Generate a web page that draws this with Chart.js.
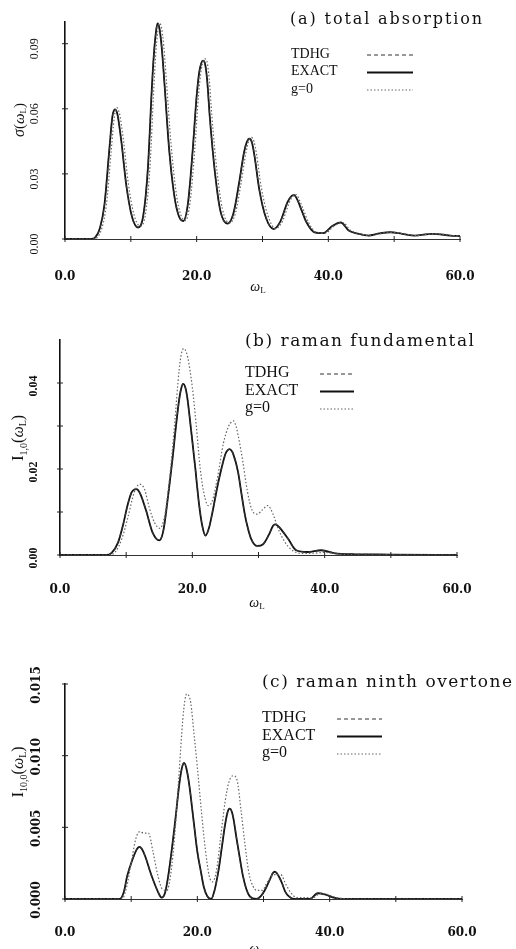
<!DOCTYPE html>
<html>
<head>
<meta charset="utf-8">
<script src="https://cdn.jsdelivr.net/npm/chart.js@4.4.0/dist/chart.umd.min.js"></script>
<style>
  body { margin: 0; background: #fff; width: 516px; height: 949px; overflow: hidden; position: relative; }
  canvas { position: absolute; left: 0; }
</style>
</head>
<body>
<canvas id="chartA" width="516" height="300" style="top:0px"></canvas>
<canvas id="chartB" width="516" height="320" style="top:300px"></canvas>
<canvas id="chartC" width="516" height="329" style="top:620px"></canvas>
<script>
// x axis (omega_L), shared by the three panels
const xTicks = [0, 20, 40, 60];
const xTickLabels = ['0.0', '20.0', '40.0', '60.0'];
const xMinorTicks = [0, 10, 20, 30, 40, 50, 60];
const legendNames = ['TDHG', 'EXACT', 'g=0'];

// (a) total absorption  [omega_L, sigma]
const exactA = [[0,0],[4.0,0],[4.6,0.0008],[5.3,0.005],[6.0,0.016],[6.7,0.040],[7.2,0.0565],[7.4,0.059],[7.6,0.0597],[7.8,0.059],[8.0,0.057],[8.6,0.044],[9.3,0.025],[10.2,0.010],[11.1,0.0053],[11.9,0.011],[12.6,0.033],[13.2,0.070],[13.5,0.085],[13.8,0.095],[14.05,0.0993],[14.35,0.097],[14.7,0.088],[15.1,0.072],[15.8,0.042],[16.6,0.020],[17.3,0.0105],[17.97,0.0083],[18.7,0.017],[19.4,0.041],[20.0,0.066],[20.4,0.077],[20.7,0.081],[20.95,0.0822],[21.25,0.081],[21.6,0.073],[22.0,0.056],[22.8,0.030],[23.6,0.013],[24.7,0.0071],[25.6,0.012],[26.4,0.025],[27.2,0.040],[27.6,0.0445],[28.0,0.0462],[28.4,0.0445],[28.8,0.038],[29.5,0.023],[30.5,0.010],[31.7,0.0046],[32.7,0.008],[33.8,0.017],[34.4,0.0198],[34.8,0.0202],[35.3,0.018],[35.9,0.0135],[36.7,0.0076],[37.9,0.0031],[39.2,0.0027],[40.6,0.006],[41.9,0.0076],[43.1,0.0039],[44.6,0.0024],[46.1,0.0016],[47.8,0.0026],[49.4,0.0031],[51.2,0.0024],[53.1,0.0016],[55.8,0.0024],[58.5,0.0016],[60,0.0013]];
const tdhgA = exactA;
const g0A = [[0,0],[4.2,0],[4.9,0.0008],[5.6,0.005],[6.3,0.016],[7.0,0.040],[7.5,0.0565],[7.7,0.0595],[7.9,0.0605],[8.1,0.0595],[8.3,0.0575],[8.9,0.045],[9.6,0.026],[10.5,0.011],[11.4,0.006],[12.2,0.011],[12.9,0.033],[13.5,0.070],[13.8,0.086],[14.1,0.0955],[14.35,0.0995],[14.65,0.0975],[15.0,0.089],[15.4,0.073],[16.1,0.044],[16.9,0.021],[17.6,0.011],[18.3,0.0085],[19.0,0.017],[19.7,0.041],[20.3,0.067],[20.7,0.078],[21.0,0.082],[21.25,0.083],[21.55,0.082],[21.9,0.074],[22.3,0.057],[23.1,0.031],[23.9,0.014],[25.0,0.0073],[25.9,0.012],[26.7,0.025],[27.5,0.040],[27.9,0.045],[28.3,0.0468],[28.7,0.045],[29.1,0.039],[29.8,0.024],[30.8,0.011],[32.0,0.0048],[33.0,0.008],[34.1,0.017],[34.7,0.020],[35.1,0.0205],[35.6,0.018],[36.2,0.0135],[37.0,0.0076],[38.2,0.0031],[39.5,0.0027],[40.9,0.006],[42.2,0.0076],[43.4,0.0039],[44.9,0.0024],[46.4,0.0016],[48.1,0.0026],[49.7,0.0031],[51.5,0.0024],[53.4,0.0016],[56.1,0.0024],[58.8,0.0016],[60,0.0013]];
const yTicksA = [0, 0.03, 0.06, 0.09];
const yTickLabelsA = ['0.00', '0.03', '0.06', '0.09'];

// (b) raman fundamental  [omega_L, I_1,0]
const exactB = [[0,0],[7.0,0],[7.8,0.0005],[8.8,0.003],[9.5,0.0068],[10.2,0.0115],[10.8,0.0145],[11.2,0.0152],[11.5,0.0153],[11.8,0.0151],[12.2,0.014],[13.0,0.0104],[14.0,0.0052],[15.0,0.0034],[15.6,0.0055],[16.2,0.012],[17.0,0.0223],[17.6,0.031],[18.0,0.036],[18.3,0.0386],[18.6,0.0398],[18.9,0.0392],[19.2,0.037],[19.6,0.032],[20.4,0.0209],[21.0,0.012],[21.5,0.0068],[22.0,0.0045],[22.5,0.0062],[23.1,0.0104],[23.8,0.016],[24.4,0.0201],[25.0,0.0235],[25.3,0.0243],[25.6,0.0246],[25.9,0.0243],[26.2,0.0234],[26.9,0.0194],[27.4,0.0145],[27.9,0.0097],[28.4,0.0062],[28.9,0.0037],[29.8,0.0021],[30.7,0.0025],[31.6,0.0048],[32.2,0.0068],[32.5,0.0071],[32.9,0.0068],[33.5,0.0058],[34.5,0.0037],[35.7,0.0011],[37.4,0.0007],[39.5,0.0011],[41.6,0.0004],[44,0.0002],[50,0.0001],[60,0]];
const tdhgB = exactB;
const g0B = [[0,0],[7.4,0],[8.4,0.0008],[9.4,0.004],[10.3,0.009],[11.2,0.0145],[11.7,0.0161],[12.0,0.0165],[12.4,0.0162],[12.8,0.0152],[13.5,0.011],[14.3,0.0075],[15.1,0.0062],[15.8,0.009],[16.5,0.017],[17.3,0.030],[18.0,0.043],[18.4,0.0472],[18.7,0.048],[19.0,0.0475],[19.3,0.046],[20.0,0.039],[20.6,0.030],[21.2,0.020],[21.8,0.014],[22.4,0.0115],[23.0,0.0125],[23.8,0.018],[24.7,0.026],[25.5,0.030],[25.9,0.0309],[26.2,0.0312],[26.6,0.030],[26.9,0.028],[27.6,0.022],[28.3,0.015],[29.0,0.0105],[29.8,0.0095],[30.6,0.0105],[31.4,0.0115],[32.2,0.0095],[33.0,0.006],[34.0,0.003],[35.0,0.0012],[36.5,0.0004],[38,0.0004],[40,0.0006],[42,0.0002],[45,0],[60,0]];
const yTicksB = [0, 0.02, 0.04];
const yTickLabelsB = ['0.00', '0.02', '0.04'];

// (c) raman ninth overtone  [omega_L, I_10,0]
const exactC = [[0,0],[8.3,0],[8.9,0.0005],[9.4,0.0016],[10.4,0.003],[10.9,0.0035],[11.25,0.00364],[11.6,0.0035],[12.1,0.003],[13.1,0.0016],[14.1,0.00045],[14.6,0.0001],[15.1,0.0004],[15.6,0.0016],[16.1,0.0033],[16.6,0.0052],[17.3,0.0081],[17.7,0.0092],[18.0,0.0095],[18.35,0.0091],[18.8,0.0079],[19.5,0.0052],[20.0,0.0033],[20.5,0.002],[21.0,0.0008],[21.5,0.0002],[22.1,0],[22.6,0.0006],[23.2,0.002],[23.7,0.0036],[24.2,0.0052],[24.6,0.0061],[24.9,0.0063],[25.2,0.0061],[25.5,0.0055],[25.9,0.0043],[26.4,0.0029],[26.9,0.0016],[27.4,0.0007],[27.9,0.0002],[28.9,0],[29.6,0.0002],[30.3,0.0007],[31.0,0.0014],[31.4,0.0018],[31.7,0.0019],[32.0,0.0018],[32.4,0.0015],[32.8,0.0011],[33.3,0.0005],[33.8,0.0002],[34.6,0],[37,0],[38.2,0.0004],[39.4,0.0003],[40.6,0.0001],[42,0],[60,0]];
const tdhgC = exactC;
const g0C = [[0,0],[8.6,0],[9.3,0.0008],[10.0,0.0025],[10.7,0.0042],[11.3,0.0047],[11.9,0.0046],[12.6,0.0046],[13.3,0.0033],[14.0,0.0017],[14.7,0.0007],[15.4,0.0006],[16.0,0.0018],[16.6,0.0045],[17.2,0.0085],[17.8,0.0125],[18.1,0.0138],[18.4,0.0143],[18.7,0.0142],[19.0,0.0137],[19.5,0.0115],[20.0,0.0092],[20.6,0.0062],[21.2,0.0035],[21.8,0.0016],[22.3,0.0012],[22.9,0.002],[23.5,0.0042],[24.2,0.0068],[24.8,0.0082],[25.4,0.0086],[26.0,0.0083],[26.6,0.0062],[27.2,0.0038],[27.8,0.0018],[28.4,0.0009],[29.0,0.0006],[29.8,0.0006],[30.6,0.0012],[31.6,0.0017],[32.6,0.0017],[33.4,0.001],[34.2,0.0004],[35,0.0001],[37.5,0.0001],[38.6,0.0004],[39.8,0.0003],[41,0.0001],[43,0],[60,0]];
const yTicksC = [0, 0.005, 0.010, 0.015];
const yTickLabelsC = ['0.000', '0.005', '0.010', '0.015'];

const SERIF = '"DejaVu Serif", serif';
const TIMES = '"Liberation Serif", serif';

function pts(arr) { return arr.map(([x, y]) => ({ x: x, y: y })); }

function drawRich(ctx, parts, cx, cy, rotate) {
  ctx.save();
  ctx.translate(cx, cy);
  if (rotate) ctx.rotate(-Math.PI / 2);
  ctx.textBaseline = 'middle';
  ctx.textAlign = 'left';
  let total = 0;
  parts.forEach(p => { ctx.font = p.f; total += ctx.measureText(p.t).width; });
  let x = -total / 2;
  parts.forEach(p => {
    ctx.font = p.f;
    ctx.fillText(p.t, x, p.dy || 0);
    x += ctx.measureText(p.t).width;
  });
  ctx.restore();
}

function fitText(ctx, text, x, y, w, font) {
  ctx.font = font;
  ctx.letterSpacing = '0px';
  const w0 = ctx.measureText(text).width;
  const ls = Math.max(0, (w - w0) / (text.length - 1));
  ctx.letterSpacing = ls + 'px';
  ctx.textAlign = 'left';
  ctx.textBaseline = 'middle';
  ctx.fillText(text, x, y);
  ctx.letterSpacing = '0px';
}

const lineStyles = [
  { color: '#333', width: 1.2, dash: [4, 3] },   // TDHG
  { color: '#111', width: 1.8, dash: [] },       // EXACT
  { color: '#666', width: 1.2, dash: [1.5, 2] }  // g=0
];

function makePanel(id, p) {
  const textPlugin = {
    id: 'panelText',
    afterDraw(chart) {
      const { ctx } = chart;
      const xs = chart.scales.x, ys = chart.scales.y;
      ctx.save();
      ctx.fillStyle = '#111';
      ctx.strokeStyle = '#222';
      ctx.lineWidth = 1;
      ctx.setLineDash([]);
      // tick marks
      ctx.beginPath();
      xMinorTicks.forEach(v => {
        const px = xs.getPixelForValue(v);
        ctx.moveTo(px, ys.bottom - 3); ctx.lineTo(px, ys.bottom + 3);
      });
      p.yMinor.forEach(v => {
        const py = ys.getPixelForValue(v);
        ctx.moveTo(xs.left - 3, py); ctx.lineTo(xs.left + 3, py);
      });
      ctx.stroke();
      // x tick labels
      ctx.font = 'bold 12px ' + SERIF;
      ctx.textAlign = 'center';
      ctx.textBaseline = 'middle';
      xTicks.forEach((v, i) => ctx.fillText(xTickLabels[i], xs.getPixelForValue(v), p.xLabelY));
      // y tick labels, rotated
      ctx.font = p.yFont;
      p.yTicks.forEach((v, i) => {
        const py = ys.getPixelForValue(v) + p.yShift;
        ctx.save();
        ctx.translate(p.yLabelX, py);
        ctx.rotate(-Math.PI / 2);
        ctx.fillText(p.yLabels[i], 0, 0);
        ctx.restore();
      });
      // axis titles
      drawRich(ctx, p.yTitle, p.yTitlePos[0], p.yTitlePos[1], true);
      drawRich(ctx, [
        { t: 'ω', f: 'italic 14px ' + TIMES },
        { t: 'L', f: '9px ' + TIMES, dy: 4 }
      ], p.xTitlePos[0], p.xTitlePos[1], false);
      // panel title
      fitText(ctx, p.title, p.titleX, p.titleY, p.titleW, p.titleFont);
      // legend
      legendNames.forEach((name, i) => {
        const y = p.legY + i * p.legDy;
        ctx.font = p.legFont;
        ctx.textAlign = 'left';
        ctx.textBaseline = 'middle';
        ctx.fillText(name, p.legX, y);
        const s = lineStyles[i];
        ctx.strokeStyle = s.color;
        ctx.lineWidth = s.width;
        ctx.setLineDash(s.dash);
        ctx.beginPath();
        ctx.moveTo(p.legX0, y + 1); ctx.lineTo(p.legX1, y + 1);
        ctx.stroke();
      });
      ctx.restore();
    }
  };

  return new Chart(document.getElementById(id), {
    type: 'scatter',
    data: {
      datasets: [
        { label: 'g=0', data: pts(p.g0), showLine: true, pointRadius: 0, borderColor: lineStyles[2].color, borderWidth: lineStyles[2].width, borderDash: lineStyles[2].dash, cubicInterpolationMode: 'monotone' },
        { label: 'TDHG', data: pts(p.tdhg), showLine: true, pointRadius: 0, borderColor: lineStyles[0].color, borderWidth: lineStyles[0].width, borderDash: lineStyles[0].dash, cubicInterpolationMode: 'monotone' },
        { label: 'EXACT', data: pts(p.exact), showLine: true, pointRadius: 0, borderColor: lineStyles[1].color, borderWidth: lineStyles[1].width, cubicInterpolationMode: 'monotone' }
      ]
    },
    options: {
      responsive: false,
      animation: false,
      devicePixelRatio: 1,
      layout: { padding: p.pad },
      plugins: { legend: { display: false }, tooltip: { enabled: false } },
      scales: {
        x: { type: 'linear', min: 0, max: 60, ticks: { display: false }, grid: { display: false }, border: { color: '#333', width: 1 } },
        y: { type: 'linear', min: 0, max: p.yMax, ticks: { display: false }, grid: { display: false }, border: { color: '#111', width: 1.6 } }
      }
    },
    plugins: [textPlugin]
  });
}

makePanel('chartA', {
  exact: exactA, tdhg: tdhgA, g0: g0A,
  yMax: 0.1, yTicks: yTicksA, yLabels: yTickLabelsA, yMinor: yTicksA,
  pad: { left: 57, top: 22, right: 56, bottom: 53 },
  xLabelY: 277, yLabelX: 35, yShift: 5, yFont: '12px ' + TIMES,
  yTitle: [
    { t: 'σ', f: 'italic 16px ' + TIMES },
    { t: '(', f: '15px ' + TIMES },
    { t: 'ω', f: 'italic 15px ' + TIMES },
    { t: 'L', f: '9px ' + TIMES, dy: 4 },
    { t: ')', f: '15px ' + TIMES }
  ],
  yTitlePos: [20, 120], xTitlePos: [258, 287],
  title: '(a) total absorption', titleX: 290, titleY: 20, titleW: 192, titleFont: '16px ' + SERIF,
  legX: 291, legY: 54, legDy: 17.5, legX0: 367, legX1: 413, legFont: '14px ' + TIMES
});

makePanel('chartB', {
  exact: exactB, tdhg: tdhgB, g0: g0B,
  yMax: 0.05, yTicks: yTicksB, yLabels: yTickLabelsB, yMinor: [0, 0.01, 0.02, 0.03, 0.04],
  pad: { left: 52, top: 40, right: 59, bottom: 57 },
  xLabelY: 290, yLabelX: 34, yShift: 3, yFont: 'bold 12px ' + TIMES,
  yTitle: [
    { t: 'I', f: '17px ' + TIMES },
    { t: '1,0', f: '10px ' + TIMES, dy: 5 },
    { t: '(', f: '16px ' + TIMES },
    { t: 'ω', f: 'italic 16px ' + TIMES },
    { t: 'L', f: '10px ' + TIMES, dy: 4 },
    { t: ')', f: '16px ' + TIMES }
  ],
  yTitlePos: [19, 138], xTitlePos: [257, 303],
  title: '(b) raman fundamental', titleX: 245, titleY: 42, titleW: 229, titleFont: '17px ' + SERIF,
  legX: 245, legY: 73, legDy: 17.5, legX0: 320, legX1: 354, legFont: '16px ' + TIMES
});

makePanel('chartC', {
  exact: exactC, tdhg: tdhgC, g0: g0C,
  yMax: 0.015, yTicks: yTicksC, yLabels: yTickLabelsC, yMinor: yTicksC,
  pad: { left: 57, top: 64, right: 54, bottom: 42 },
  xLabelY: 313, yLabelX: 37, yShift: 1, yFont: 'bold 12px ' + SERIF,
  yTitle: [
    { t: 'I', f: '17px ' + TIMES },
    { t: '10,0', f: '10px ' + TIMES, dy: 5 },
    { t: '(', f: '16px ' + TIMES },
    { t: 'ω', f: 'italic 16px ' + TIMES },
    { t: 'L', f: '10px ' + TIMES, dy: 4 },
    { t: ')', f: '16px ' + TIMES }
  ],
  yTitlePos: [19, 152], xTitlePos: [257, 329],
  title: '(c) raman ninth overtone', titleX: 262, titleY: 63, titleW: 250, titleFont: '17px ' + SERIF,
  legX: 262, legY: 98, legDy: 17.5, legX0: 337, legX1: 382, legFont: '16px ' + TIMES
});
</script>
</body>
</html>
